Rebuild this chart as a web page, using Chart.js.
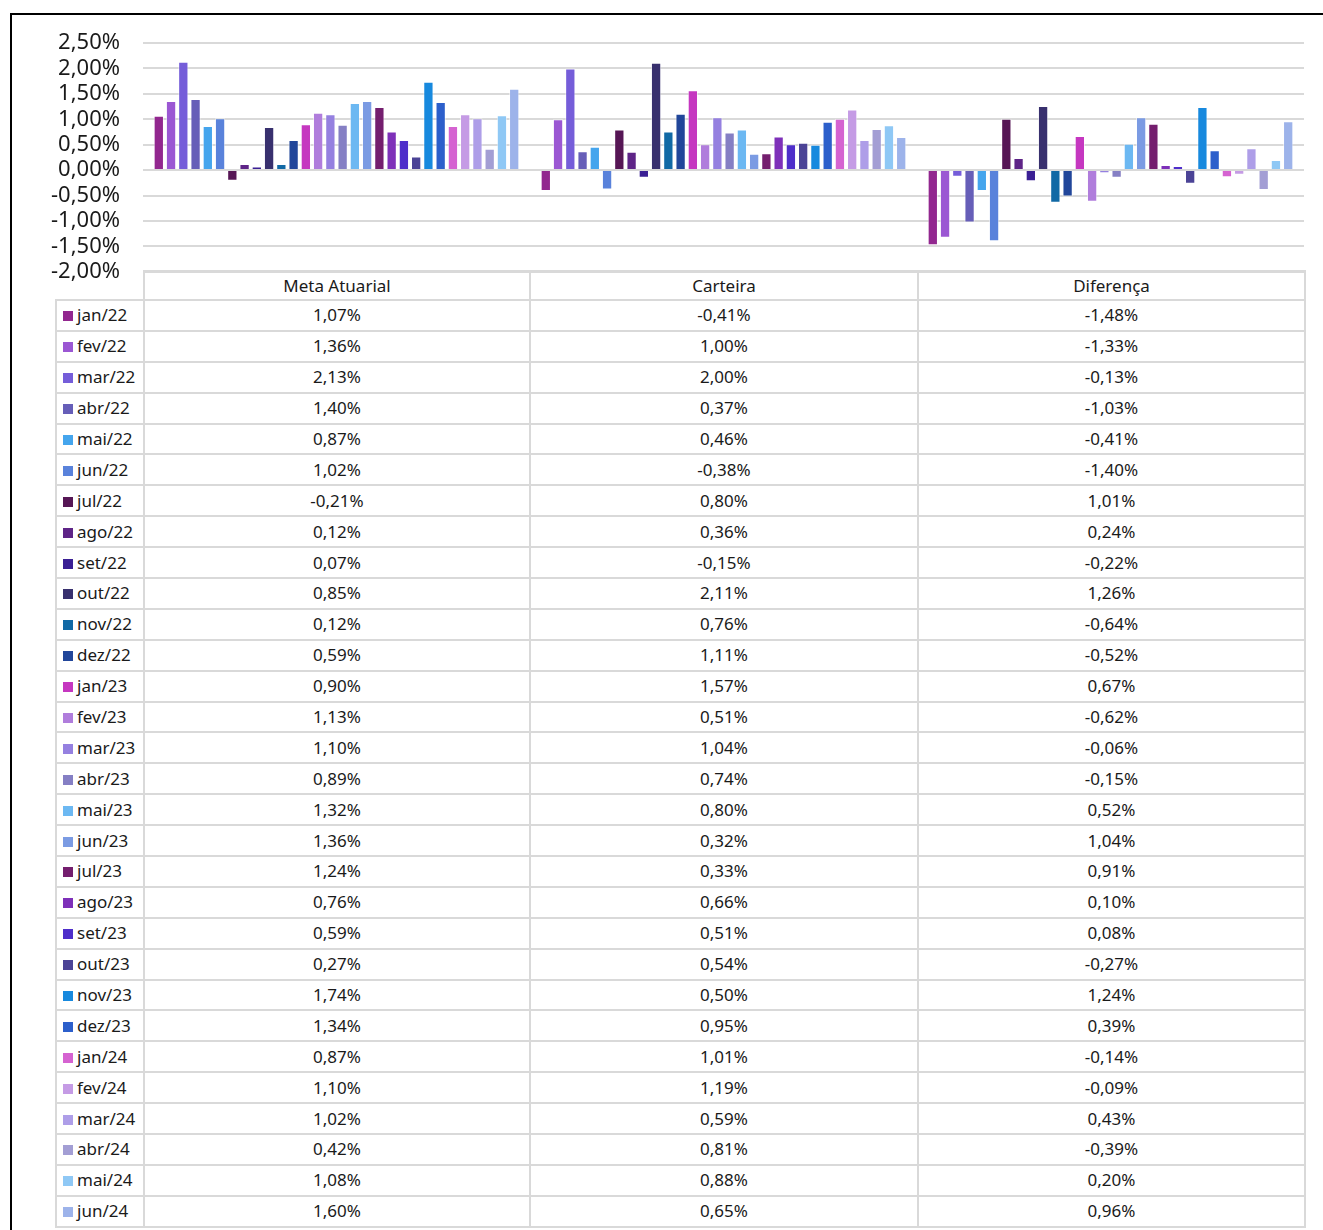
<!DOCTYPE html>
<html>
<head>
<meta charset="utf-8">
<script src="https://cdn.jsdelivr.net/npm/chart.js@4.4.0/dist/chart.umd.min.js"></script>
<style>
    html, body {
        margin: 0;
        padding: 0;
        background: #fff;
        width: 1323px;
        height: 1230px;
        overflow: hidden;
        font-family: 'Noto Sans', 'Open Sans', sans-serif;
    }
    #frame {
        position: absolute;
        left: 10px;
        top: 13px;
        width: 2000px;
        height: 2000px;
        border-top: 2px solid #000;
        border-left: 2px solid #000;
    }
    #chart {
        position: absolute;
        left: 0;
        top: 0;
        pointer-events: none;
    }
    #data-table {
        position: absolute;
        left: 55px;
        top: 270px;
        border-collapse: collapse;
        table-layout: fixed;
        width: 1249px;
        font-size: 17px;
        color: #1a1a1a;
    }
    #data-table td {
        border: 2px solid #d9d9d9;
        padding: 0;
        text-align: center;
        white-space: nowrap;
        height: 28.9px;
        line-height: 20px;
    }
    #data-table tr.head td { height: 27px; }
    #data-table td.corner {
        border-top: none;
        border-left: none;
    }
    #data-table td.name {
        text-align: left;
        padding-left: 6px;
    }
    .swatch {
        display: inline-block;
        width: 10px;
        height: 10px;
        margin-right: 4px;
        vertical-align: 0px;
    }
</style>
</head>
<body>
<div id="frame"></div>
<table id="data-table"></table>
<canvas id="chart" width="1323" height="308"></canvas>

<script>
// categorias do eixo x
const categories = ['Meta Atuarial', 'Carteira', 'Diferença'];

// meses (séries)
const months = [
    'jan/22', 'fev/22', 'mar/22', 'abr/22', 'mai/22', 'jun/22',
    'jul/22', 'ago/22', 'set/22', 'out/22', 'nov/22', 'dez/22',
    'jan/23', 'fev/23', 'mar/23', 'abr/23', 'mai/23', 'jun/23',
    'jul/23', 'ago/23', 'set/23', 'out/23', 'nov/23', 'dez/23',
    'jan/24', 'fev/24', 'mar/24', 'abr/24', 'mai/24', 'jun/24'
];

// valores em %
const metaAtuarial = [
    1.07, 1.36, 2.13, 1.40, 0.87, 1.02,
    -0.21, 0.12, 0.07, 0.85, 0.12, 0.59,
    0.90, 1.13, 1.10, 0.89, 1.32, 1.36,
    1.24, 0.76, 0.59, 0.27, 1.74, 1.34,
    0.87, 1.10, 1.02, 0.42, 1.08, 1.60
];

const carteira = [
    -0.41, 1.00, 2.00, 0.37, 0.46, -0.38,
    0.80, 0.36, -0.15, 2.11, 0.76, 1.11,
    1.57, 0.51, 1.04, 0.74, 0.80, 0.32,
    0.33, 0.66, 0.51, 0.54, 0.50, 0.95,
    1.01, 1.19, 0.59, 0.81, 0.88, 0.65
];

const diferenca = [
    -1.48, -1.33, -0.13, -1.03, -0.41, -1.40,
    1.01, 0.24, -0.22, 1.26, -0.64, -0.52,
    0.67, -0.62, -0.06, -0.15, 0.52, 1.04,
    0.91, 0.10, 0.08, -0.27, 1.24, 0.39,
    -0.14, -0.09, 0.43, -0.39, 0.20, 0.96
];

// cores de cada mês
const monthColors = [
    '#92278F', '#9B57D3', '#755DD9', '#665EB8', '#45A5ED', '#5982DB',
    '#561655', '#5E2487', '#3A1F94', '#38306E', '#1169A5', '#21469A',
    '#C537C0', '#B07DDC', '#9580E0', '#857FC4', '#6CB8F2', '#7B9BE3',
    '#741E6E', '#7E30B9', '#4E2ECA', '#4B4396', '#1789DE', '#2C5FCB',
    '#D563D1', '#C59BE5', '#AE9EE8', '#A39ED4', '#8FC8F5', '#9DB3EA'
];

// ticks do eixo y
const yMin = -2;
const yMax = 2.5;
const yStep = 0.5;

function fmtPct(v) {
    return v.toFixed(2).replace('.', ',') + '%';
}

// tabela de dados
function buildTable() {
    const table = document.getElementById('data-table');
    let html = '<colgroup><col style="width:88px"><col style="width:386px">' +
        '<col style="width:388px"><col style="width:387px"></colgroup>';
    html += '<tr class="head"><td class="corner"></td>';
    categories.forEach(c => { html += `<td>${c}</td>`; });
    html += '</tr>';
    months.forEach((m, i) => {
        html += '<tr>';
        html += `<td class="name"><span class="swatch" style="background:${monthColors[i]}"></span>${m}</td>`;
        html += `<td>${fmtPct(metaAtuarial[i])}</td>`;
        html += `<td>${fmtPct(carteira[i])}</td>`;
        html += `<td>${fmtPct(diferenca[i])}</td>`;
        html += '</tr>';
    });
    table.innerHTML = html;
}

buildTable();

const datasets = months.map((m, i) => ({
    label: m,
    data: [metaAtuarial[i], carteira[i], diferenca[i]],
    backgroundColor: monthColors[i],
    borderColor: 'rgba(255, 255, 255, 0.55)',
    borderWidth: 1,
    categoryPercentage: 0.95,
    barPercentage: 0.84
}));

const chart = new Chart(document.getElementById('chart'), {
    type: 'bar',
    data: {
        labels: categories,
        datasets
    },
    options: {
        responsive: false,
        animation: false,
        layout: {
            padding: { left: 0, right: 19, top: 43, bottom: 30 }
        },
        plugins: {
            legend: { display: false },
            tooltip: { enabled: false }
        },
        scales: {
            x: {
                display: false
            },
            y: {
                min: yMin,
                max: yMax,
                border: { display: false },
                grid: {
                    color: '#d9d9d9',
                    lineWidth: 2,
                    drawTicks: false
                },
                ticks: {
                    stepSize: yStep,
                    autoSkip: false,
                    padding: 23,
                    color: '#1a1a1a',
                    font: {
                        family: "'Noto Sans', 'Open Sans', sans-serif",
                        size: 22
                    },
                    callback: function (value) {
                        return fmtPct(value);
                    }
                },
                afterFit: function (scale) {
                    scale.width = 143;
                }
            }
        }
    }
});
</script>
</body>
</html>
